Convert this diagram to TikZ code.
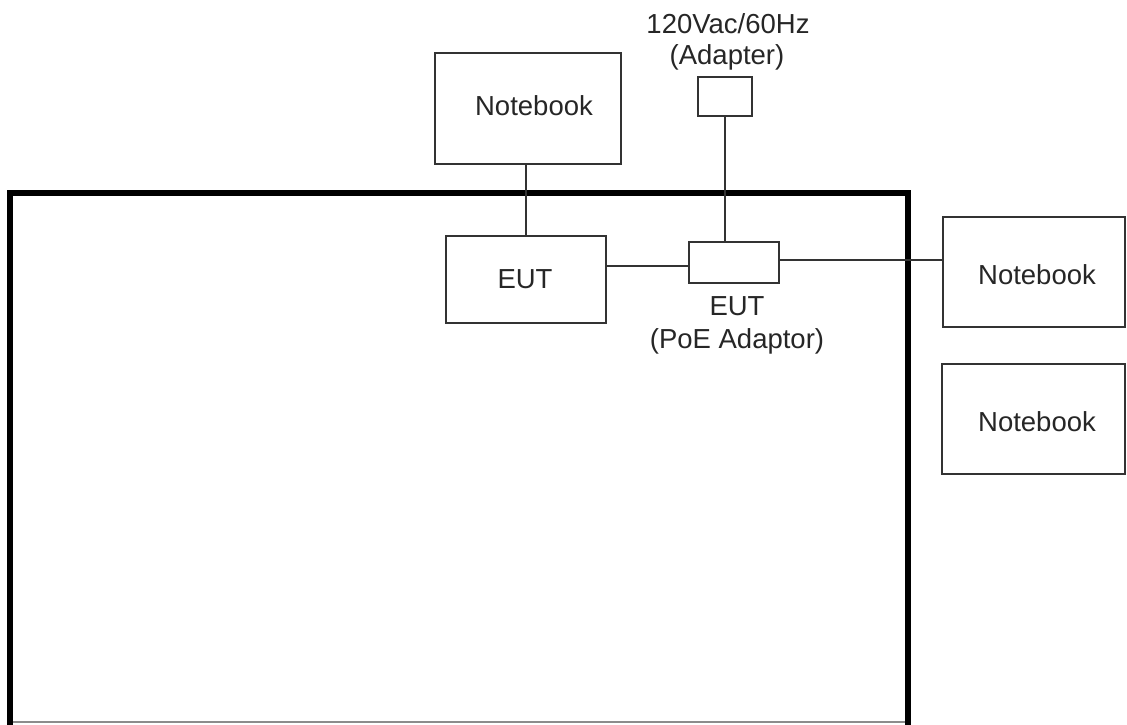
\documentclass[tikz,border=0pt]{standalone}
\usepackage{fontspec}
\setmainfont{Liberation Sans}
\begin{document}
\begin{tikzpicture}[x=1pt,y=-1pt,
  box/.style={draw=black!80,line width=2.8pt,rectangle,inner sep=0pt},
  lbl/.style={inner sep=0pt,font=\fontsize{27.5}{31}\selectfont,text=black!85},
  wire/.style={draw=black!80,line width=2.8pt},
  frame/.style={draw=black,line width=5.5pt}]
\useasboundingbox (0,0) rectangle (1127,724);
% outer frame (bottom cut by picture edge)
\draw[frame] (10,735) -- (10,193) -- (908,193) -- (908,735);
\draw[draw=black!45,line width=1.5pt] (13,722) -- (905,722);
% nodes
\node[box,minimum width=186pt,minimum height=111pt] (nb1) at (528,108.5) {};
\node[lbl] (nb1t) at (534,106) {Notebook};
\node[box,minimum width=54pt,minimum height=39pt] (adp) at (725,96.5) {};
\node[lbl] (adpt1) at (728,24) {120Vac/60Hz};
\node[lbl] (adpt2) at (727,57) {(Adapter)};
\node[box,minimum width=160pt,minimum height=87pt] (eut) at (526,279.5) {};
\node[lbl] (eutt) at (525,279) {EUT};
\node[box,minimum width=90pt,minimum height=41pt] (poe) at (734,262.5) {};
\node[lbl] (poet1) at (737,306) {EUT};
\node[lbl] (poet2) at (737,341) {(PoE Adaptor)};
\node[box,minimum width=182pt,minimum height=110pt] (nb2) at (1034,272) {};
\node[lbl] (nb2t) at (1037,275) {Notebook};
\node[box,minimum width=183pt,minimum height=110pt] (nb3) at (1033.5,419) {};
\node[lbl] (nb3t) at (1037,422) {Notebook};
% connectors
\draw[wire] (nb1.south -| eut.north) -- (eut.north);
\draw[wire] (adp.south) -- (adp.south |- poe.north);
\draw[wire] (eut.east |- 0,266) -- (poe.west |- 0,266);
\draw[wire] (poe.east |- 0,260) -- (nb2.west |- 0,260);
\end{tikzpicture}
\end{document}
